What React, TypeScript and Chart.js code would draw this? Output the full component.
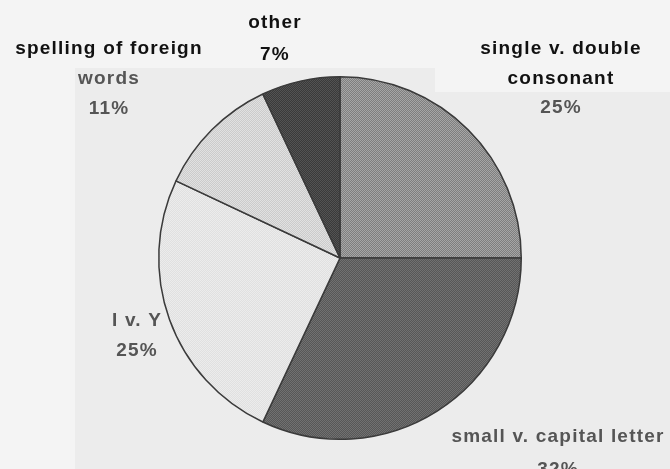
import React, { useEffect, useRef } from "react";
import { Chart, registerables } from "chart.js";

Chart.register(...registerables);

// ---- data ----
const categories = [
  "single v. double consonant",
  "small v. capital letter",
  "I v. Y",
  "spelling of foreign words",
  "other",
];
const shares = [25, 32, 25, 11, 7];
const labelLines = [
  ["single v. double", "consonant"],
  ["small v. capital letter"],
  ["I v. Y"],
  ["spelling of foreign", "words"],
  ["other"],
];

// ---- styling / layout ----
const sliceTones: [string, string][] = [
  ["#7e7e7e", "#a6a6a6"],
  ["#575757", "#717171"],
  ["#e0e0e0", "#ececec"],
  ["#cbcbcb", "#e1e1e1"],
  ["#3a3a3a", "#535353"],
];
// x center, first baseline, line gap, colours per line (last = percent)
const labelLayout = [
  { x: 561, y: 54, gap: 29.5, colors: ["#111", "#111", "#555"] },
  { x: 558, y: 442, gap: 33, colors: ["#555", "#555"] },
  { x: 137, y: 326, gap: 30, colors: ["#555", "#555"] },
  { x: 109, y: 54, gap: 30, colors: ["#111", "#555", "#555"] },
  { x: 275, y: 28, gap: 32, colors: ["#111", "#111"] },
];

function makePattern(c1: string, c2: string): CanvasPattern | string {
  const c = document.createElement("canvas");
  c.width = 2;
  c.height = 2;
  const g = c.getContext("2d");
  if (!g) return c1;
  g.fillStyle = c1;
  g.fillRect(0, 0, 2, 2);
  g.fillStyle = c2;
  g.fillRect(0, 0, 1, 1);
  g.fillRect(1, 1, 1, 1);
  const ctx = document.createElement("canvas").getContext("2d");
  return (ctx && ctx.createPattern(c, "repeat")) || c1;
}

const backdropPlugin = {
  id: "backdrop",
  beforeDraw(chart: any) {
    const ctx = chart.ctx;
    const w = chart.width;
    const h = chart.height;
    ctx.save();
    ctx.fillStyle = "#f4f4f4";
    ctx.fillRect(0, 0, w, h);
    ctx.fillStyle = "#ececec";
    ctx.fillRect(75, 68, 360, h - 68);
    ctx.fillRect(435, 92, w - 435, h - 92);
    ctx.restore();
  },
};

const labelPlugin = {
  id: "sliceLabels",
  afterDraw(chart: any) {
    const ctx = chart.ctx;
    ctx.save();
    ctx.font = "bold 19px 'Liberation Sans', Arial, sans-serif";
    ctx.textAlign = "center";
    ctx.textBaseline = "alphabetic";
    (ctx as any).letterSpacing = "1.2px";
    categories.forEach((_, i) => {
      const lay = labelLayout[i];
      const lines = [...labelLines[i], `${shares[i]}%`];
      lines.forEach((t, j) => {
        ctx.fillStyle = lay.colors[j] || "#555";
        ctx.fillText(t, lay.x, lay.y + j * lay.gap);
      });
    });
    ctx.restore();
  },
};

export default function App() {
  const ref = useRef<HTMLCanvasElement | null>(null);

  useEffect(() => {
    document.body.style.margin = "0";
    const canvas = ref.current;
    if (!canvas) return;
    const fills = sliceTones.map(([a, b]) => makePattern(a, b));
    const chart = new Chart(canvas, {
      type: "pie",
      data: {
        labels: categories,
        datasets: [
          {
            data: shares,
            backgroundColor: fills as any,
            borderColor: "#3a3a3a",
            borderWidth: 1.5,
          },
        ],
      },
      options: {
        responsive: false,
        animation: false,
        events: [],
        layout: { padding: { left: 158, right: 148, top: 76, bottom: 29 } },
        plugins: {
          legend: { display: false },
          tooltip: { enabled: false },
          title: { display: false },
        },
      },
      plugins: [backdropPlugin, labelPlugin],
    });
    return () => chart.destroy();
  }, []);

  return (
    <div style={{ width: 670, height: 469, position: "relative" }}>
      <canvas ref={ref} width={670} height={469} style={{ display: "block" }} />
    </div>
  );
}
